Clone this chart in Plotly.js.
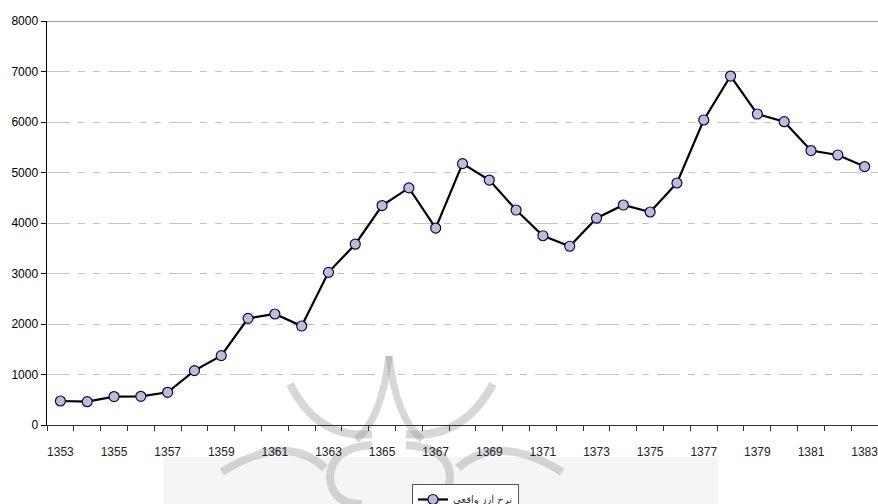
<!DOCTYPE html>
<html>
<head>
<meta charset="utf-8">
<script src="https://cdn.plot.ly/plotly-3.0.1.min.js"></script>
<style>html,body{margin:0;padding:0;background:#fff;}#chart{width:878px;height:504px;}</style>
</head>
<body>
<div id="chart"></div>
<script>
// Data
const years = [1353,1354,1355,1356,1357,1358,1359,1360,1361,1362,1363,1364,1365,1366,1367,1368,1369,1370,1371,1372,1373,1374,1375,1376,1377,1378,1379,1380,1381,1382,1383];
const realRate = [475,462,563,568,647,1076,1373,2112,2198,1960,3023,3580,4345,4695,3900,5175,4850,4257,3748,3540,4095,4356,4218,4792,6040,6910,6158,6006,5435,5347,5118];
const seriesName = 'نرخ ارز واقعی';
const yTicks = [0,1000,2000,3000,4000,5000,6000,7000,8000];

// layout helpers (pixel -> paper)
const L = 47, R = 878, T = 21, B = 425;
const px = x => ((x - L) / (R - L)).toFixed(4);
const py = y => ((B - y) / (B - T)).toFixed(4);

const wm = 'rgba(150,150,150,0.38)';
function wpath(d, w){ return {type:'path', xref:'paper', yref:'paper', layer:'below', line:{color:wm, width:w||8}, path:d}; }
const P = (x,y) => px(x)+','+py(y);
const shapes = [
  {type:'rect', xref:'paper', yref:'paper', x0:px(163), x1:px(718), y0:py(457), y1:py(506), fillcolor:'#f3f5f7', line:{width:0}, layer:'below'},
  // watermark crown approximation
  wpath('M'+P(290,384)+' Q'+P(318,440)+' '+P(372,434)),
  wpath('M'+P(493,384)+' Q'+P(463,440)+' '+P(406,434)),
  wpath('M'+P(389,356)+' Q'+P(382,418)+' '+P(356,440), 7),
  wpath('M'+P(389,356)+' Q'+P(396,418)+' '+P(422,440), 7),
  wpath('M'+P(372,445)+' Q'+P(330,448)+' '+P(330,478)+' Q'+P(332,504)+' '+P(362,504), 8),
  wpath('M'+P(406,445)+' Q'+P(450,448)+' '+P(450,478)+' Q'+P(448,504)+' '+P(418,504), 8),
  wpath('M'+P(222,472)+' Q'+P(285,432)+' '+P(325,468)),
  wpath('M'+P(562,472)+' Q'+P(498,432)+' '+P(458,468)),
  // top border at 8000
  {type:'line', xref:'paper', yref:'y', x0:0, x1:1, y0:8000, y1:8000, line:{color:'#9a9a9a', width:2}, layer:'above'}
];

const trace = {
  x: years, y: realRate, name: seriesName, type:'scatter', mode:'lines+markers',
  line:{color:'#000000', width:2.2},
  marker:{symbol:'circle', size:10, color:'#c0c0c0', line:{color:'#000080', width:1.2}},
  showlegend:true
};

const layout = {
  width:878, height:504,
  margin:{l:L, r:878-R, t:T, b:504-B, pad:0, autoexpand:false},
  paper_bgcolor:'#ffffff', plot_bgcolor:'rgba(0,0,0,0)',
  font:{family:'"Liberation Sans", Arial, sans-serif', color:'#000'},
  showlegend:true,
  legend:{x:px(412), y:py(484), xanchor:'left', yanchor:'top', orientation:'h',
    bgcolor:'#ffffff', bordercolor:'#555', borderwidth:1,
    font:{family:'"DejaVu Sans", sans-serif', size:10, color:'#333'},
    itemwidth:30, tracegroupgap:0},
  xaxis:{
    range:[years[0]-0.5, years[years.length-1]+0.5],
    tickmode:'linear', tick0:years[0], dtick:2,
    ticks:'', ticklabelstandoff:16, ticklabeloverflow:'allow',
    showgrid:false, zeroline:false, automargin:false,
    showline:true, linecolor:'#333', linewidth:1,
    tickfont:{family:'"Liberation Sans Narrow", "Liberation Sans", Arial, sans-serif', size:12, color:'#222'},
    minor:{tick0:years[0]-0.5, dtick:1, ticks:'outside', ticklen:5, tickcolor:'#333', tickwidth:1, showgrid:false}
  },
  yaxis:{
    range:[0,8000], tickmode:'array', tickvals:yTicks, ticktext:yTicks.map(String),
    ticks:'outside', ticklen:5, tickcolor:'#000', tickwidth:1, automargin:false,
    showline:true, linecolor:'#000', linewidth:1.5,
    showgrid:true, gridcolor:'#c4c4c4', gridwidth:1, griddash:'23px,8px,7px,8px,7px,8px',
    zeroline:false,
    tickfont:{family:'"Liberation Sans", Arial, sans-serif', size:12, color:'#000'}
  },
  shapes: shapes
};

Plotly.newPlot('chart', [trace], layout, {displayModeBar:false, staticPlot:true});
</script>
</body>
</html>
